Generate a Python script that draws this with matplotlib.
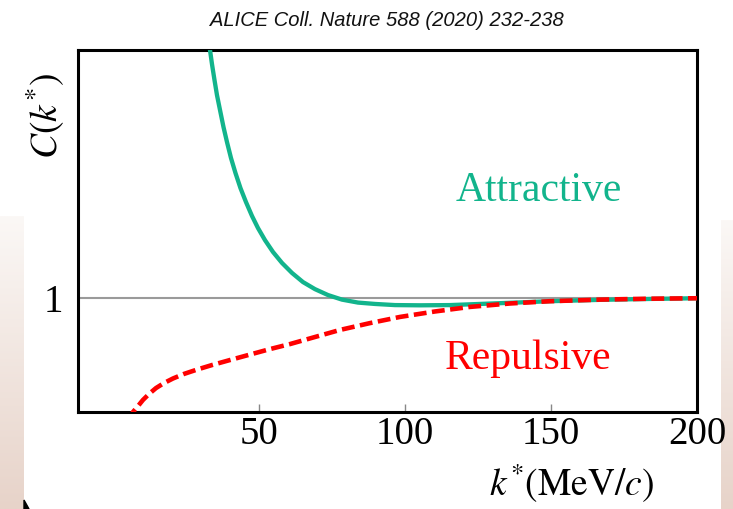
import numpy as np
import matplotlib
matplotlib.use("Agg")
import matplotlib.pyplot as plt
from matplotlib.patches import Polygon

plt.rcParams["mathtext.fontset"] = "stix"

# correlation function for an attractive interaction
k_attr = [32.69, 33.21, 33.89, 34.75, 35.60, 36.63, 37.83, 39.03, 40.40, 41.94,
          43.65, 45.53, 47.59, 49.64, 52.04, 54.78, 57.86, 61.29, 65.05, 69.16,
          73.62, 78.41, 83.89, 89.71, 96.56, 105.12, 115.40, 125.67, 135.95,
          149.64, 166.77, 183.89, 200.0]
c_attr = [2.132, 2.088, 2.026, 1.956, 1.890, 1.825, 1.750, 1.684, 1.614, 1.548,
          1.482, 1.421, 1.360, 1.307, 1.254, 1.202, 1.154, 1.110, 1.070, 1.039,
          1.013, 0.993, 0.980, 0.974, 0.969, 0.968, 0.969, 0.974, 0.979,
          0.986, 0.992, 0.996, 0.999]

# correlation function for a repulsive interaction
k_rep = [5.12, 6.84, 8.55, 10.26, 12.32, 14.71, 17.45, 20.53, 24.30, 28.75,
         33.89, 40.05, 46.90, 53.75, 60.60, 69.16, 77.73, 88.0, 98.27, 110.26,
         122.25, 135.95, 149.64, 166.77, 183.89, 200.0]
c_rep = [0.465, 0.500, 0.526, 0.553, 0.579, 0.605, 0.627, 0.647, 0.667, 0.686,
         0.706, 0.728, 0.752, 0.776, 0.798, 0.829, 0.860, 0.890, 0.917, 0.941,
         0.961, 0.976, 0.986, 0.993, 0.997, 0.999]

xticks = [50, 100, 150, 200]

fig = plt.figure(figsize=(7.33, 5.09), dpi=100)

# pale slide edges behind the plot
grad = np.linspace(0, 1, 256).reshape(-1, 1)
edge_cmap = matplotlib.colors.LinearSegmentedColormap.from_list(
    "edge", ["#fbf8f6", "#e7d3c9"])
for rect in ([0, 0, 24 / 733, 293 / 509], [721 / 733, 0, 12 / 733, 289 / 509]):
    eax = fig.add_axes(rect, zorder=0)
    eax.imshow(grad, aspect="auto", cmap=edge_cmap, origin="upper")
    eax.axis("off")
fig.patches.append(Polygon([[24 / 733, 0], [24 / 733, 9 / 509], [29 / 733, 0]],
                           closed=True, color="black",
                           transform=fig.transFigure, figure=fig))

ax = fig.add_axes([78 / 733, 1 - 412 / 509, 619 / 733, 362 / 509], zorder=2)
ax.axhline(1.0, color="#9a9a9a", lw=1.5, zorder=1)
ax.plot(k_attr, c_attr, color="#12b48c", lw=3.1, zorder=3,
        solid_joinstyle="round")
ax.plot(k_rep, c_rep, color="#ff0000", lw=3.3, ls=(0, (2.8, 1.2)), zorder=4)

ax.set_xlim(-12, 200)
ax.set_ylim(0.5, 2.088)
ax.set_xticks(xticks)
ax.set_xticklabels([str(t) for t in xticks], family="Liberation Serif",
                   fontsize=28)
ax.set_yticks([1])
ax.set_yticklabels(["1"], family="Liberation Serif", fontsize=28)
ax.tick_params(axis="x", direction="in", length=6, width=1, color="#888888",
               pad=3)
ax.tick_params(axis="y", length=0, pad=11)
for s in ax.spines.values():
    s.set_linewidth(2.2)
    s.set_color("black")

ax.text(0.61, 0.61, "Attractive", transform=ax.transAxes, color="#12b48c",
        family="Liberation Serif", fontsize=30, ha="left", va="center")
ax.text(0.593, 0.147, "Repulsive", transform=ax.transAxes, color="#ff0000",
        family="Liberation Serif", fontsize=30, ha="left", va="center")

fig.text(387 / 733, 1 - 21 / 509, "ALICE Coll. Nature 588 (2020) 232-238",
         family="Liberation Sans", style="italic", fontsize=14.5,
         ha="center", va="center", color="#111111")
fig.text(572 / 733, 1 - 483 / 509, r"$k^{*}(\mathrm{MeV}/c)$", fontsize=27,
         ha="center", va="center")
fig.text(45 / 733, 1 - 116 / 509, r"$C(k^{*})$", fontsize=27, rotation=90,
         ha="center", va="center")

fig.savefig("out.png", dpi=100)
plt.close(fig)
